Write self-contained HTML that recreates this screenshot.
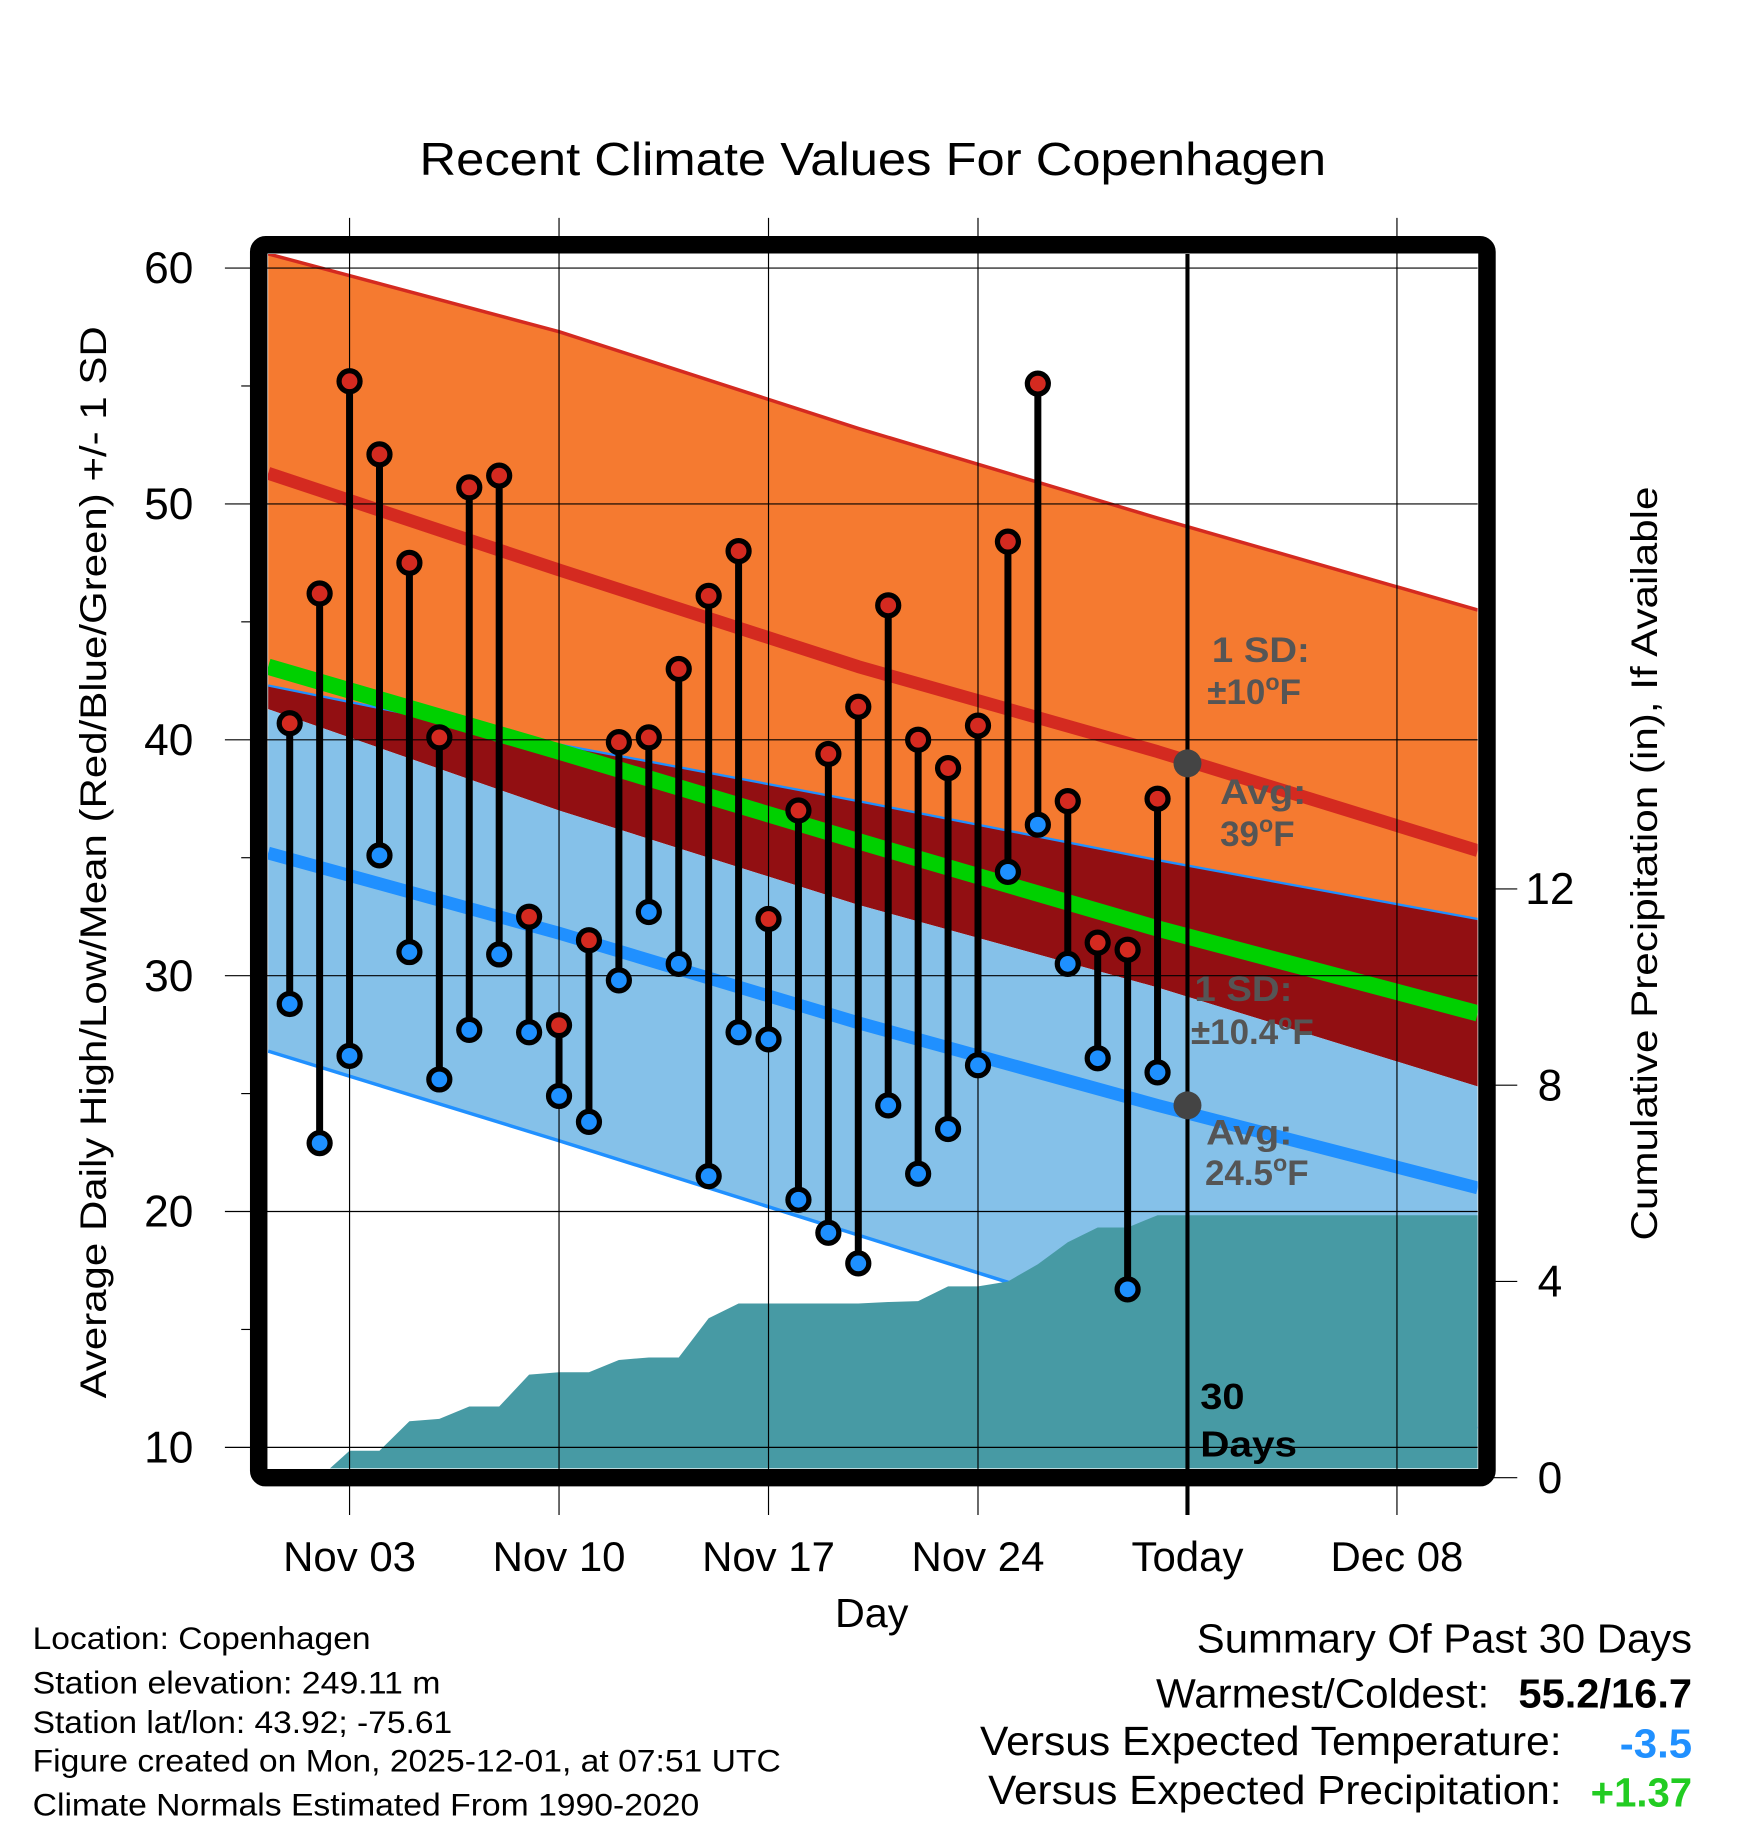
<!DOCTYPE html>
<html><head><meta charset="utf-8"><style>
html,body{margin:0;padding:0;background:#fff;}
svg{display:block;}
text{font-family:"Liberation Sans",Arial,sans-serif;}
</style></head><body>
<svg id="chart" width="1748" height="1828" viewBox="0 0 1500 1568.6" preserveAspectRatio="none" xmlns="http://www.w3.org/2000/svg">
<defs><clipPath id="pc"><rect x="230" y="218" width="1038" height="1042"/></clipPath></defs>
<g id="bands" clip-path="url(#pc)"></g>
<g id="grid"></g>
<g id="marks"></g>
<rect x="222" y="210" width="1054" height="1058" rx="6" fill="none" stroke="#000" stroke-width="15"/>
<g id="labels"></g>
<text x="749" y="150" font-size="40" text-anchor="middle" textLength="778" lengthAdjust="spacingAndGlyphs">Recent Climate Values For Copenhagen</text>
<text transform="translate(91,740) rotate(-90)" font-size="32" text-anchor="middle" textLength="920" lengthAdjust="spacingAndGlyphs">Average Daily High/Low/Mean (Red/Blue/Green) +/- 1 SD</text>
<text transform="translate(1422,741) rotate(-90)" font-size="32" text-anchor="middle" textLength="647" lengthAdjust="spacingAndGlyphs">Cumulative Precipitation (in), If Available</text>
<text x="748" y="1396" font-size="35" text-anchor="middle" textLength="63" lengthAdjust="spacingAndGlyphs">Day</text>
<g font-size="30" fill="#555" font-weight="bold">
<text x="1040" y="568" textLength="84" lengthAdjust="spacingAndGlyphs">1 SD:</text>
<text x="1036" y="604">±10<tspan font-size="20" dy="-12">o</tspan><tspan dy="12">F</tspan></text>
<text x="1047" y="690" textLength="74" lengthAdjust="spacingAndGlyphs">Avg:</text>
<text x="1047" y="726">39<tspan font-size="20" dy="-12">o</tspan><tspan dy="12">F</tspan></text>
<text x="1025" y="859" textLength="84" lengthAdjust="spacingAndGlyphs">1 SD:</text>
<text x="1022" y="896">±10.4<tspan font-size="20" dy="-12">o</tspan><tspan dy="12">F</tspan></text>
<text x="1035" y="982" textLength="74" lengthAdjust="spacingAndGlyphs">Avg:</text>
<text x="1034" y="1017">24.5<tspan font-size="20" dy="-12">o</tspan><tspan dy="12">F</tspan></text>
</g>
<text x="1030" y="1209" font-size="31" font-weight="bold" textLength="38" lengthAdjust="spacingAndGlyphs">30</text>
<text x="1030" y="1250" font-size="31" font-weight="bold" textLength="83" lengthAdjust="spacingAndGlyphs">Days</text>
<g font-size="27">
<text x="28" y="1415" textLength="290" lengthAdjust="spacingAndGlyphs">Location: Copenhagen</text>
<text x="28" y="1453" textLength="350" lengthAdjust="spacingAndGlyphs">Station elevation: 249.11 m</text>
<text x="28" y="1487" textLength="360" lengthAdjust="spacingAndGlyphs">Station lat/lon: 43.92; -75.61</text>
<text x="28" y="1520" textLength="642" lengthAdjust="spacingAndGlyphs">Figure created on Mon, 2025-12-01, at 07:51 UTC</text>
<text x="28" y="1558" textLength="572" lengthAdjust="spacingAndGlyphs">Climate Normals Estimated From 1990-2020</text>
</g>
<g font-size="35" text-anchor="end">
<text x="1452" y="1418" textLength="425" lengthAdjust="spacingAndGlyphs">Summary Of Past 30 Days</text>
<text x="1278" y="1465" textLength="286" lengthAdjust="spacingAndGlyphs">Warmest/Coldest:</text>
<text x="1452" y="1465" font-weight="bold" textLength="149" lengthAdjust="spacingAndGlyphs">55.2/16.7</text>
<text x="1340" y="1506" textLength="499" lengthAdjust="spacingAndGlyphs">Versus Expected Temperature:</text>
<text x="1452" y="1508" font-weight="bold" fill="#2090ff" textLength="62" lengthAdjust="spacingAndGlyphs">-3.5</text>
<text x="1340" y="1548" textLength="492" lengthAdjust="spacingAndGlyphs">Versus Expected Precipitation:</text>
<text x="1452" y="1550" font-weight="bold" fill="#22cc22" textLength="87" lengthAdjust="spacingAndGlyphs">+1.37</text>
</g>
</svg>
<script>
const highs=[40.7,46.2,55.2,52.1,47.5,40.1,50.7,51.2,32.5,27.9,31.5,39.9,40.1,43.0,46.1,48.0,32.4,37.0,39.4,41.4,45.7,40.0,38.8,40.6,48.4,55.1,37.4,31.4,31.1,37.5];
const lows=[28.8,22.9,26.6,35.1,31.0,25.6,27.7,30.9,27.6,24.9,23.8,29.8,32.7,30.5,21.5,27.6,27.3,20.5,19.1,17.8,24.5,21.6,23.5,26.2,34.4,36.4,30.5,26.5,16.7,25.9];
const precip=[0,0,0.55,0.55,1.15,1.2,1.45,1.45,2.1,2.15,2.15,2.4,2.45,2.45,3.25,3.55,3.55,3.55,3.55,3.55,3.58,3.6,3.9,3.9,4.0,4.35,4.8,5.1,5.1,5.35,5.35];
const normDays=[-0.72,9,19,29,39.7];
const highPlusSD=[60.6,57.3,53.2,49.4,45.5];
const highAvg=[51.3,47.2,43.1,39.5,35.3];
const lowPlusSD=[42.3,39.8,37.4,34.9,32.4];
const highMinusSD=[41.3,37.0,33.0,29.5,25.3];
const meanAvg=[43.1,39.5,35.7,32.0,28.4];
const lowAvg=[35.2,31.8,28.0,24.5,21.0];
const lowMinusSD=[26.8,23.0,19.0,15.0,10.8];
const yTicks=[10,20,30,40,50,60];
const pTicks=[0,4,8,12];
const xTickDays=[2,9,16,23,30,37];
const xTickLabels=["Nov 03","Nov 10","Nov 17","Nov 24","Today","Dec 08"];
const todayDay=30;

const NS="http://www.w3.org/2000/svg";
const X=d=>248.6+25.68*d;
const Y=t=>230+(60-t)*20.24;
const P=v=>1268-v*42.1;
function mk(tag,attrs,parent){const e=document.createElementNS(NS,tag);for(const k in attrs)e.setAttribute(k,attrs[k]);parent.appendChild(e);return e;}
const bands=document.getElementById('bands'),grid=document.getElementById('grid'),marks=document.getElementById('marks'),labels=document.getElementById('labels');
function pts(arr){return normDays.map((d,i)=>X(d)+','+Y(arr[i]));}
function band(top,bot,fill,name){const p=pts(top).concat(pts(bot).reverse()).join(' ');const e=mk('polygon',{points:p,fill:fill},bands);

}
function line(arr,col,w,name){const e=mk('polyline',{points:pts(arr).join(' '),fill:'none',stroke:col,'stroke-width':w,'stroke-linejoin':'round'},bands);

}
band(highPlusSD,lowPlusSD,'#f57a30','orange-high-band');
band(lowPlusSD,highMinusSD,'#920f12','overlap-band');
band(highMinusSD,lowMinusSD,'#85c1e9','blue-low-band');
line(highPlusSD,'#d42a20',3,'high-plus-sd-line');
line(lowPlusSD,'#2090ff',2,'low-plus-sd-line');
line(lowMinusSD,'#2090ff',3,'low-minus-sd-line');
line(meanAvg,'#00d000',14,'mean-line');
line(highAvg,'#d42a20',11,'avg-high-line');
line(lowAvg,'#2090ff',11,'avg-low-line');
let pp=[X(-0.72)+','+P(0)];
precip.forEach((v,i)=>pp.push(X(i)+','+P(v)));
pp.push(X(39.7)+','+P(precip[precip.length-1]));pp.push(X(39.7)+','+P(0));
const pr=mk('polygon',{points:pp.join(' '),fill:'#479aa4'},bands);


yTicks.forEach(t=>{const l=mk('line',{x1:193,x2:1268,y1:Y(t),y2:Y(t),stroke:'#000','stroke-width':1},grid);


const tx=mk('text',{x:166,y:Y(t)+13,'font-size':38,'text-anchor':'end'},labels);tx.textContent=t;


if(t<60){const m=mk('line',{x1:207,x2:216,y1:Y(t+5),y2:Y(t+5),stroke:'#000','stroke-width':1},grid);

}});
xTickDays.forEach((d,i)=>{const isT=d===todayDay;const l=mk('line',{x1:X(d),x2:X(d),y1:isT?218:187,y2:1300,stroke:'#000','stroke-width':isT?3.5:1},grid);


const tx=mk('text',{x:X(d),y:1348,'font-size':36,'text-anchor':'middle'},labels);tx.textContent=xTickLabels[i];

});
pTicks.forEach(v=>{const l=mk('line',{x1:1276,x2:1302,y1:P(v),y2:P(v),stroke:'#000','stroke-width':1},grid);


const tx=mk('text',{x:1330,y:P(v)+13,'font-size':38,'text-anchor':'middle'},labels);tx.textContent=v;

});
highs.forEach((h,i)=>{const x=X(i);
const s=mk('line',{x1:x,x2:x,y1:Y(h),y2:Y(lows[i]),stroke:'#000','stroke-width':6},marks);


const c1=mk('circle',{cx:x,cy:Y(h),r:9,fill:'#d42a20',stroke:'#000','stroke-width':4.5},marks);


const c2=mk('circle',{cx:x,cy:Y(lows[i]),r:9,fill:'#1e90ff',stroke:'#000','stroke-width':4.5},marks);

});
const th=mk('circle',{cx:X(todayDay),cy:Y(39),r:12,fill:'#444'},marks);


const tl=mk('circle',{cx:X(todayDay),cy:Y(24.5),r:12,fill:'#444'},marks);


</script>
</body></html>
